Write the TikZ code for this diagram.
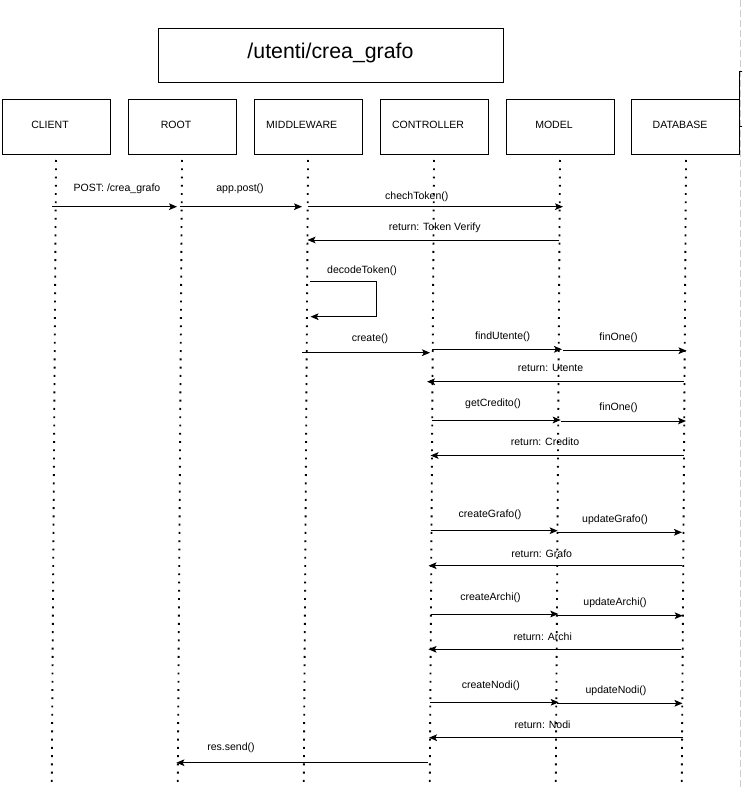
\documentclass[tikz,border=0pt]{standalone}
\usepackage{fontspec}
\setmainfont{Liberation Sans}
\usetikzlibrary{arrows.meta}
\begin{document}
\begin{tikzpicture}[x=0.75pt,y=-0.75pt,
  lbl/.style={font=\fontsize{7.9}{9}\selectfont, inner sep=0pt},
  actor/.style={draw=black, line width=0.75pt, minimum width=81pt, minimum height=41.25pt, inner sep=0pt},
  lifeline/.style={line width=1.4pt, dash pattern=on 1.4pt off 4.8pt, black},
  msg/.style={line width=0.75pt, -{Stealth[length=6pt,width=5pt,inset=1.3pt]}},
  titlebox/.style={draw=black, line width=0.75pt, minimum width=258.75pt, minimum height=40.5pt, inner sep=0pt, font=\fontsize{16}{19}\selectfont}]
\useasboundingbox (0,0) rectangle (742,788);
\clip (0,0) rectangle (742,788);
% gray dashed page border
\draw[line width=1.2pt, color=black!20, dash pattern=on 5pt off 2.5pt] (740.5,0) coordinate (gt) -- (740.5,788) coordinate (gb);
% partial box at right edge
\draw[line width=0.75pt] (760,72) -- (739.5,72) -- (739.5,127) -- (760,127);
% title
\node[titlebox] (title) at (330.5,56) {};
\node[font=\fontsize{16}{19}\selectfont, inner sep=0pt] (titletxt) at (330.5,53) {/utenti/crea\_grafo};
% actors
\foreach \n/\t/\cx/\tx in {client/CLIENT/56/50, root/ROOT/182/176, mw/MIDDLEWARE/308/301.7, ctrl/CONTROLLER/434/428, model/MODEL/560/554, db/DATABASE/685.5/680}{
  \node[actor] (\n) at (\cx,127.5) {};
  \node[lbl] (\n t) at (\tx,124.5) {\t};
}
% lifelines
\foreach \n/\xt in {client/56, root/182, mw/308, ctrl/434, model/560, db/686}{
  \coordinate (\n top) at (\xt,160);
  \coordinate (\n bot) at (\xt-4.3,792);
  \draw[lifeline] (\n top) -- (\n bot);
}
% messages
\coordinate (a1) at (52,206.7); \coordinate (b1) at (177,206.7);
\draw[msg] (a1) -- (b1);
\node[lbl] (l1) at (117,188.5) {POST: /crea\_grafo};
\coordinate (a2) at (180,206.7); \coordinate (b2) at (302,206.7);
\draw[msg] (a2) -- (b2);
\node[lbl] (l2) at (240,188.5) {app.post()};
\coordinate (a3) at (308,206.7); \coordinate (b3) at (563,206.7);
\draw[msg] (a3) -- (b3);
\node[lbl] (l3) at (416.8,196.7) {chechToken()};
\coordinate (a4) at (559.3,240); \coordinate (b4) at (307.5,240);
\draw[msg] (a4) -- (b4);
\node[lbl] (l4) at (434.7,227.3) {return: Token Verify};
% self loop
\coordinate (a5) at (310,281); \coordinate (c5) at (376.5,281); \coordinate (d5) at (376.5,316.7); \coordinate (b5) at (310.5,316.7);
\draw[msg] (a5) -- (c5) -- (d5) -- (b5);
\node[lbl] (l5) at (362,271) {decodeToken()};
\coordinate (a6) at (302,352.7); \coordinate (b6) at (430,352.7);
\draw[msg] (a6) -- (b6);
\node[lbl] (l6) at (370,338.5) {create()};
\coordinate (a7) at (432,349.3); \coordinate (b7) at (562,349.3);
\draw[msg] (a7) -- (b7);
\node[lbl] (l7) at (502.7,336.5) {findUtente()};
\coordinate (a8) at (563,350.7); \coordinate (b8) at (686.5,350.7);
\draw[msg] (a8) -- (b8);
\node[lbl] (l8) at (618.5,338) {finOne()};
\coordinate (a9) at (684,381.7); \coordinate (b9) at (427,381.7);
\draw[msg] (a9) -- (b9);
\node[lbl] (l9) at (550.5,368) {return: Utente};
\coordinate (a10) at (432,420); \coordinate (b10) at (560.7,420);
\draw[msg] (a10) -- (b10);
\node[lbl] (l10) at (493,404) {getCredito()};
\coordinate (a11) at (560.7,421); \coordinate (b11) at (686,421);
\draw[msg] (a11) -- (b11);
\node[lbl] (l11) at (618.5,408) {finOne()};
\coordinate (a12) at (684,455.5); \coordinate (b12) at (430.5,455.5);
\draw[msg] (a12) -- (b12);
\node[lbl] (l12) at (545,442) {return: Credito};
\coordinate (a13) at (430.7,530.7); \coordinate (b13) at (557.7,530.7);
\draw[msg] (a13) -- (b13);
\node[lbl] (l13) at (490,514.5) {createGrafo()};
\coordinate (a14) at (557,532.3); \coordinate (b14) at (682,532.3);
\draw[msg] (a14) -- (b14);
\node[lbl] (l14) at (615,520) {updateGrafo()};
\coordinate (a15) at (681.7,565.7); \coordinate (b15) at (428.5,565.7);
\draw[msg] (a15) -- (b15);
\node[lbl] (l15) at (541.7,553.3) {return: Grafo};
\coordinate (a16) at (430.7,614); \coordinate (b16) at (558.3,614);
\draw[msg] (a16) -- (b16);
\node[lbl] (l16) at (490.5,597.7) {createArchi()};
\coordinate (a17) at (557,615.7); \coordinate (b17) at (682.7,615.7);
\draw[msg] (a17) -- (b17);
\node[lbl] (l17) at (615,602.3) {updateArchi()};
\coordinate (a18) at (681,649.3); \coordinate (b18) at (428.5,649.3);
\draw[msg] (a18) -- (b18);
\node[lbl] (l18) at (542.7,636.5) {return: Archi};
\coordinate (a19) at (430,702.3); \coordinate (b19) at (558.7,702.3);
\draw[msg] (a19) -- (b19);
\node[lbl] (l19) at (490.8,685.7) {createNodi()};
\coordinate (a20) at (557,703.3); \coordinate (b20) at (682.5,703.3);
\draw[msg] (a20) -- (b20);
\node[lbl] (l20) at (616,690.7) {updateNodi()};
\coordinate (a21) at (682.5,737.7); \coordinate (b21) at (429,737.7);
\draw[msg] (a21) -- (b21);
\node[lbl] (l21) at (542.5,724.3) {return: Nodi};
\coordinate (a22) at (427.7,762.7); \coordinate (b22) at (176.4,762.7);
\draw[msg] (a22) -- (b22);
\node[lbl] (l22) at (231,748) {res.send()};
\end{tikzpicture}
\end{document}
